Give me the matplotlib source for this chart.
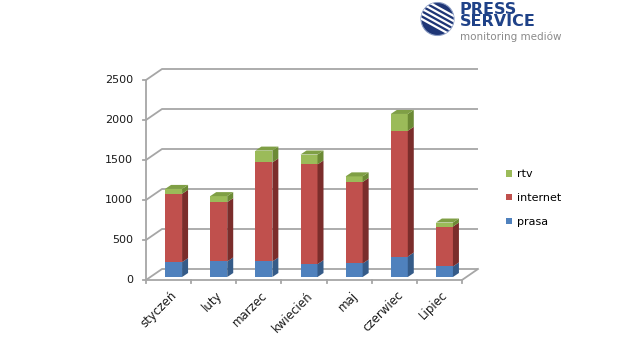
import numpy as np
import matplotlib
matplotlib.use('Agg')
import matplotlib.pyplot as plt
from matplotlib.patches import Polygon, Rectangle, Circle, Patch
from matplotlib import transforms

# data
months = ['styczeń', 'luty', 'marzec', 'kwiecień', 'maj', 'czerwiec', 'Lipiec']
prasa = [186, 194, 194, 161, 169, 256, 132]
internet = [854, 742, 1238, 1246, 1019, 1572, 499]
rtv = [61, 75, 148, 124, 70, 210, 50]
yticks = [0, 500, 1000, 1500, 2000, 2500]

# front / side / top colours per series
styles = {
    'prasa': ('#4f81bd', '#355b88', '#6d95c6'),
    'internet': ('#c0504d', '#7b2d2b', '#cd6a67'),
    'rtv': ('#9bbb59', '#6c8a35', '#7f9f45'),
}

W, H, DPI = 619, 339, 100
fig = plt.figure(figsize=(W / DPI, H / DPI), dpi=DPI)
fig.patch.set_facecolor('white')

ax = fig.add_axes([146 / W, (H - 280) / H, 316 / W, 200 / H])
ax.set_xlim(-0.5, len(months) - 0.5)
ax.set_ylim(0, yticks[-1])
ax.axis('off')

# pixels -> data units
p0 = ax.transData.transform((0, 0))
p1 = ax.transData.transform((1, 1))
sx, sy = p1[0] - p0[0], p1[1] - p0[1]
def dx(px):
    return px / sx
def dy(px):
    return px / sy

grid = '#a6a6a6'
glw = 1.3
wall = (16, 11)   # depth of the back wall in px
x_lo, x_hi = -0.5, len(months) - 0.5

# back wall gridlines with the slanted left side wall
for v in yticks:
    ax.plot([x_lo, x_lo + dx(wall[0]), x_hi + dx(wall[0])],
            [v, v + dy(wall[1]), v + dy(wall[1])],
            color=grid, lw=glw, clip_on=False, solid_capstyle='butt')
    ax.plot([x_lo - dx(3), x_lo], [v, v], color=grid, lw=glw, clip_on=False)
# floor front edge and right corner
ax.plot([x_lo, x_hi, x_hi + dx(wall[0])], [0, 0, dy(wall[1])],
        color=grid, lw=glw, clip_on=False)
ax.plot([x_lo, x_lo], [0, yticks[-1]], color=grid, lw=glw, clip_on=False)
for k in range(len(months) + 1):
    ax.plot([x_lo + k, x_lo + k], [0, -dy(3)], color=grid, lw=glw, clip_on=False)

# pseudo 3D stacked columns
bw = dx(17)
off_x, off_y = dx(5), dy(3)
ddx, ddy = dx(6), dy(4)
for i in range(len(months)):
    bottom = 0
    stack = [('prasa', prasa[i]), ('internet', internet[i]), ('rtv', rtv[i])]
    for j, (name, h) in enumerate(stack):
        front, side, top = styles[name]
        x0 = i + off_x - bw / 2
        y0 = bottom + off_y
        ax.add_patch(Rectangle((x0, y0), bw, h, fc=front, ec='none', clip_on=False, zorder=3))
        ax.add_patch(Polygon([(x0 + bw, y0), (x0 + bw, y0 + h),
                              (x0 + bw + ddx, y0 + h + ddy), (x0 + bw + ddx, y0 + ddy)],
                             closed=True, fc=side, ec='none', clip_on=False, zorder=3))
        if j == len(stack) - 1:
            ax.add_patch(Polygon([(x0, y0 + h), (x0 + bw, y0 + h),
                                  (x0 + bw + ddx, y0 + h + ddy), (x0 + ddx, y0 + h + ddy)],
                                 closed=True, fc=top, ec='none', clip_on=False, zorder=3))
        bottom += h

# tick labels
ylab_tr = transforms.offset_copy(ax.transData, fig, x=-13, y=0, units='dots')
for v in yticks:
    ax.text(x_lo, v, str(v), transform=ylab_tr, ha='right', va='center',
            fontsize=8, color='#1a1a1a')
xlab_tr = transforms.offset_copy(ax.transData, fig, x=2, y=-9, units='dots')
for i, m in enumerate(months):
    ax.text(i, 0, m, transform=xlab_tr, rotation=45, rotation_mode='anchor',
            ha='right', va='top', fontsize=8.5, color='#1a1a1a')

# legend
handles = [Patch(fc=styles[n][0], ec='none') for n in ['rtv', 'internet', 'prasa']]
fig.legend(handles, ['rtv', 'internet', 'prasa'], loc='center left',
           bbox_to_anchor=(506 / W, (H - 198) / H), frameon=False, fontsize=8,
           handlelength=0.55, handleheight=0.55, handletextpad=0.45,
           labelspacing=1.25, borderpad=0, borderaxespad=0)

# logo
ident = transforms.IdentityTransform()
cx, cy, r = 437.5, H - 19, 16.5
globe = Circle((cx, cy), r, transform=ident, fc='#1f3676', ec='#8a9cc4', lw=0.8)
fig.patches.append(globe)
direc = np.array([1.0, -0.55])
direc /= np.linalg.norm(direc)
perp = np.array([-0.48, -0.88])
for k in range(5):
    c = np.array([441.0, H - 9.0]) + k * 4.5 * perp
    a, b = c - 25 * direc, c + 25 * direc
    ln = plt.Line2D([a[0], b[0]], [a[1], b[1]], transform=ident, color='white', lw=1.6)
    ln.set_clip_path(globe)
    fig.lines.append(ln)
fig.text(460 / W, (H - 1.5) / H, 'PRESS\nSERVICE', fontsize=11.5, fontweight='bold',
         color='#1f4288', ha='left', va='top', linespacing=0.82)
fig.text(460 / W, (H - 36.5) / H, 'monitoring mediów', fontsize=7.5,
         color='#8a8a8a', ha='left', va='center')

fig.savefig('out.png', dpi=DPI, facecolor='white')
